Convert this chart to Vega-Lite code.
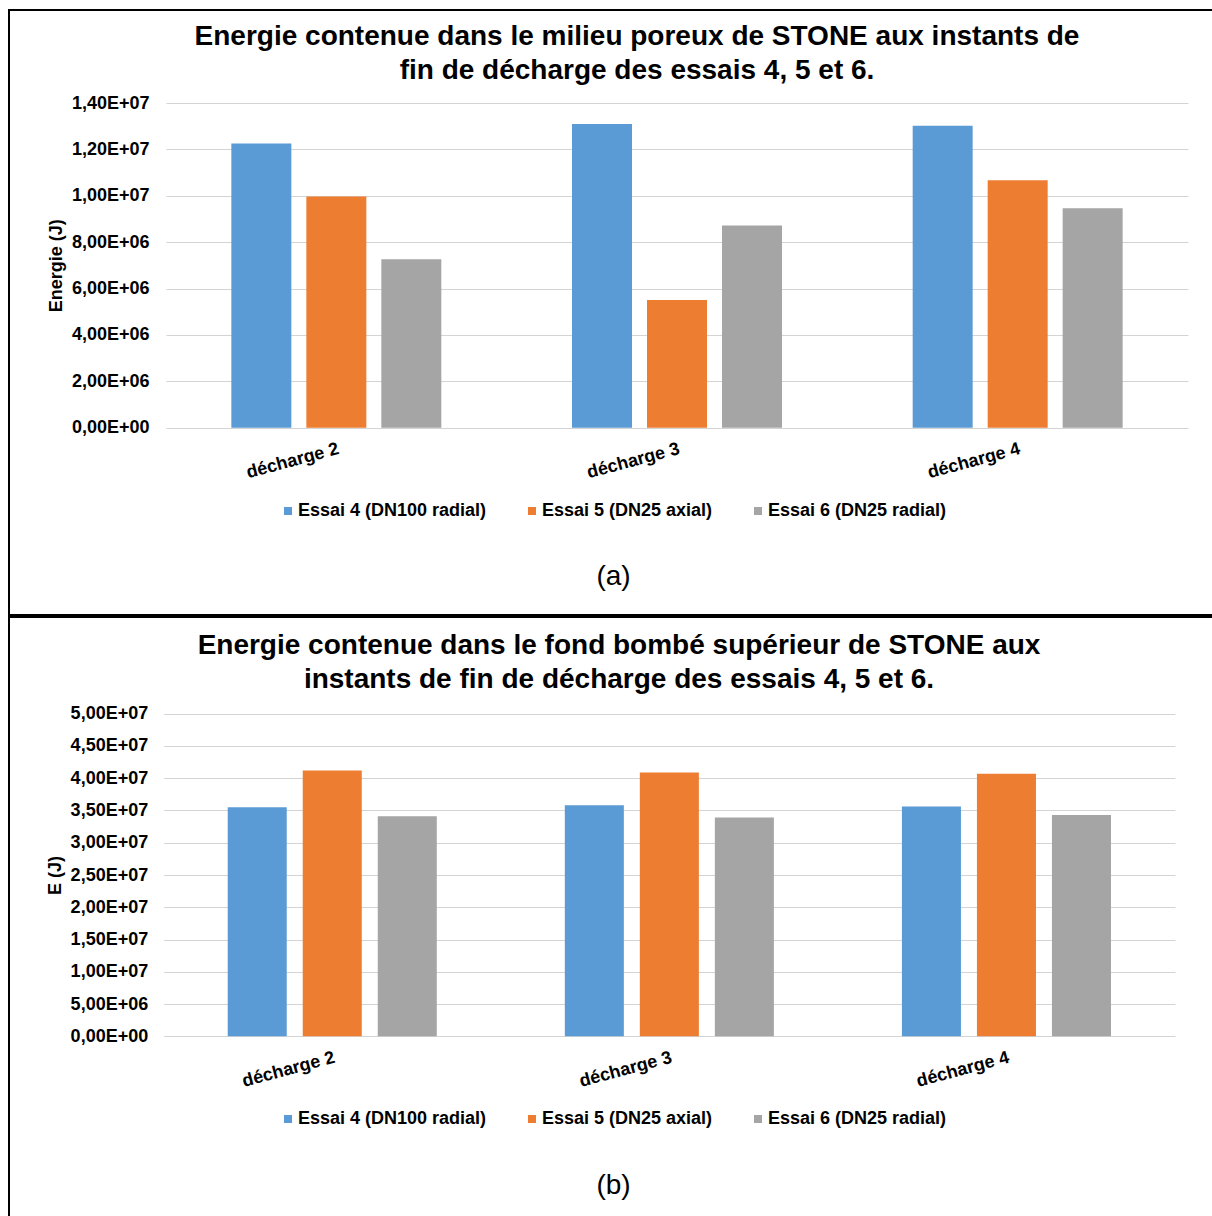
{
  "$schema": "https://vega.github.io/schema/vega-lite/v6.json",
  "padding": {"left": 8, "top": 9, "right": 0, "bottom": 0},
  "background": "white",
  "spacing": 0,
  "config": {
    "font": "Liberation Sans",
    "view": {"stroke": "black", "strokeWidth": 2},
    "axis": {"labelFont": "Liberation Sans", "titleFont": "Liberation Sans", "labelColor": "black", "titleColor": "black"},
    "legend": {"labelFont": "Liberation Sans"},
    "title": {"font": "Liberation Sans"}
  },
  "datasets": {
    "a": [
      {"cat": "décharge 2", "serie": "Essai 4 (DN100 radial)", "value": 12250000},
      {"cat": "décharge 2", "serie": "Essai 5 (DN25 axial)", "value": 9970000},
      {"cat": "décharge 2", "serie": "Essai 6 (DN25 radial)", "value": 7260000},
      {"cat": "décharge 3", "serie": "Essai 4 (DN100 radial)", "value": 13090000},
      {"cat": "décharge 3", "serie": "Essai 5 (DN25 axial)", "value": 5510000},
      {"cat": "décharge 3", "serie": "Essai 6 (DN25 radial)", "value": 8720000},
      {"cat": "décharge 4", "serie": "Essai 4 (DN100 radial)", "value": 13020000},
      {"cat": "décharge 4", "serie": "Essai 5 (DN25 axial)", "value": 10670000},
      {"cat": "décharge 4", "serie": "Essai 6 (DN25 radial)", "value": 9460000}
    ],
    "b": [
      {"cat": "décharge 2", "serie": "Essai 4 (DN100 radial)", "value": 35500000},
      {"cat": "décharge 2", "serie": "Essai 5 (DN25 axial)", "value": 41200000},
      {"cat": "décharge 2", "serie": "Essai 6 (DN25 radial)", "value": 34100000},
      {"cat": "décharge 3", "serie": "Essai 4 (DN100 radial)", "value": 35800000},
      {"cat": "décharge 3", "serie": "Essai 5 (DN25 axial)", "value": 40900000},
      {"cat": "décharge 3", "serie": "Essai 6 (DN25 radial)", "value": 33900000},
      {"cat": "décharge 4", "serie": "Essai 4 (DN100 radial)", "value": 35600000},
      {"cat": "décharge 4", "serie": "Essai 5 (DN25 axial)", "value": 40700000},
      {"cat": "décharge 4", "serie": "Essai 6 (DN25 radial)", "value": 34300000}
    ]
  },
  "resolve": {"legend": {"color": "independent"}, "scale": {"x": "independent", "y": "independent", "xOffset": "independent"}},
  "vconcat": [
    {
      "width": 1206,
      "height": 605,
      "data": {"name": "a"},
      "title": {
        "text": ["Energie contenue dans le milieu poreux de STONE aux instants de", "fin de décharge des essais 4, 5 et 6."],
        "fontSize": 28, "fontWeight": "bold", "color": "black", "anchor": "middle", "frame": "group",
        "offset": -75, "dx": 25, "lineHeight": 34
      },
      "mark": {"type": "bar"},
      "encoding": {
        "x": {
          "field": "cat", "type": "nominal", "sort": null,
          "scale": {"range": [157, 1179], "paddingInner": 0.3836, "paddingOuter": 0.1918},
          "axis": {
            "orient": "bottom", "offset": -187.3, "domain": false, "ticks": false,
            "labelAngle": -15, "labelFontSize": 18, "labelFontWeight": "bold", "labelPadding": 12,
            "title": "(a)", "titleFontSize": 28, "titleFontWeight": "normal", "titleX": 604, "titleY": 149,
            "titleBaseline": "middle", "titleAlign": "center", "grid": false
          }
        },
        "xOffset": {"field": "serie", "type": "nominal", "sort": null, "scale": {"paddingInner": 0.2, "paddingOuter": 0}},
        "y": {
          "field": "value", "type": "quantitative",
          "scale": {"domain": [0, 14000000], "range": [417.7, 93], "nice": false, "zero": true},
          "axis": {
            "offset": -157, "domain": false, "ticks": false, "grid": true, "gridColor": "#d4d4d4", "gridWidth": 1,
            "values": [0, 2000000, 4000000, 6000000, 8000000, 10000000, 12000000, 14000000],
            "labelExpr": "replace(replace(format(datum.value, '.2e'), '.', ','), 'e+', 'E+0')",
            "labelFontSize": 18, "labelFontWeight": "bold", "labelPadding": 17,
            "title": "Energie (J)", "titleFontSize": 18, "titleFontWeight": "bold", "titlePadding": 6
          }
        },
        "color": {
          "field": "serie", "type": "nominal", "sort": null,
          "scale": {"domain": ["Essai 4 (DN100 radial)", "Essai 5 (DN25 axial)", "Essai 6 (DN25 radial)"], "range": ["#5B9BD5", "#ED7D31", "#A5A5A5"]},
          "legend": {
            "orient": "none", "direction": "horizontal", "legendX": 270, "legendY": 492, "title": null,
            "symbolType": "square", "symbolSize": 64, "symbolStrokeWidth": 0, "labelFontSize": 18, "labelFontWeight": "bold",
            "labelColor": "black", "labelOffset": 1, "columnPadding": 36, "labelLimit": 400
          }
        }
      }
    },
    {
      "width": 1206,
      "height": 606,
      "data": {"name": "b"},
      "title": {
        "text": ["Energie contenue dans le fond bombé supérieur de STONE aux", "instants de fin de décharge des essais 4, 5 et 6."],
        "fontSize": 28, "fontWeight": "bold", "color": "black", "anchor": "middle", "frame": "group",
        "offset": -77, "dx": 7, "lineHeight": 34
      },
      "mark": {"type": "bar"},
      "encoding": {
        "x": {
          "field": "cat", "type": "nominal", "sort": null,
          "scale": {"range": [154.7, 1166], "paddingInner": 0.3798, "paddingOuter": 0.1899},
          "axis": {
            "orient": "bottom", "offset": -186.7, "domain": false, "ticks": false,
            "labelAngle": -15, "labelFontSize": 18, "labelFontWeight": "bold", "labelPadding": 12,
            "title": "(b)", "titleFontSize": 28, "titleFontWeight": "normal", "titleX": 604, "titleY": 149,
            "titleBaseline": "middle", "titleAlign": "center", "grid": false
          }
        },
        "xOffset": {"field": "serie", "type": "nominal", "sort": null, "scale": {"paddingInner": 0.213, "paddingOuter": 0}},
        "y": {
          "field": "value", "type": "quantitative",
          "scale": {"domain": [0, 50000000], "range": [419.3, 96.7], "nice": false, "zero": true},
          "axis": {
            "offset": -154.7, "domain": false, "ticks": false, "grid": true, "gridColor": "#d4d4d4", "gridWidth": 1,
            "values": [0, 5000000, 10000000, 15000000, 20000000, 25000000, 30000000, 35000000, 40000000, 45000000, 50000000],
            "labelExpr": "replace(replace(format(datum.value, '.2e'), '.', ','), 'e+', 'E+0')",
            "labelFontSize": 18, "labelFontWeight": "bold", "labelPadding": 16,
            "title": "E (J)", "titleFontSize": 18, "titleFontWeight": "bold", "titlePadding": 6
          }
        },
        "color": {
          "field": "serie", "type": "nominal", "sort": null,
          "scale": {"domain": ["Essai 4 (DN100 radial)", "Essai 5 (DN25 axial)", "Essai 6 (DN25 radial)"], "range": ["#5B9BD5", "#ED7D31", "#A5A5A5"]},
          "legend": {
            "orient": "none", "direction": "horizontal", "legendX": 270, "legendY": 493, "title": null,
            "symbolType": "square", "symbolSize": 64, "symbolStrokeWidth": 0, "labelFontSize": 18, "labelFontWeight": "bold",
            "labelColor": "black", "labelOffset": 1, "columnPadding": 36, "labelLimit": 400
          }
        }
      }
    }
  ]
}
